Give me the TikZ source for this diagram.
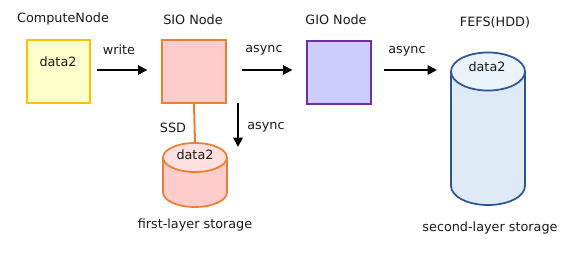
\documentclass[tikz,border=0pt]{standalone}
\usepackage{fontspec}
\setmainfont{DejaVu Sans}
\usetikzlibrary{arrows.meta}
\definecolor{txt}{HTML}{1A1A1A}
\definecolor{cfill}{HTML}{FFFFCC}
\definecolor{cline}{HTML}{FFC000}
\definecolor{sfill}{HTML}{FFCCCC}
\definecolor{sline}{HTML}{ED7D31}
\definecolor{stop}{HTML}{FFE0E0}
\definecolor{gfill}{HTML}{CCCCFF}
\definecolor{gline}{HTML}{7030A0}
\definecolor{ffill}{HTML}{DEEBF7}
\definecolor{ftop}{HTML}{EAF2FA}
\definecolor{fline}{HTML}{2F5597}
\begin{document}
\begin{tikzpicture}[x=0.75pt,y=-0.75pt,
  lbl/.style={text=txt,inner sep=0pt,font=\fontsize{9.6}{11}\selectfont},
  nodebox/.style={draw,line width=1.5pt,minimum width=47.5pt,minimum height=47.25pt,inner sep=0pt},
  flow/.style={line width=1.4pt,-{Triangle[length=7pt,width=7pt]}},
  cyl/.style={line width=1.3pt},
]
\useasboundingbox (0,0) rectangle (576,253);
% boxes
\node[nodebox,fill=cfill,draw=cline,minimum width=47.25pt] (comp) at (58.5,71.5) {};
\node[nodebox,fill=sfill,draw=sline] (sio) at (194,71.5) {};
\node[nodebox,fill=gfill,draw=gline] (gio) at (339,72.5) {};
% SSD cylinder
\fill[sfill] (163,157.5) -- (163,192.5) arc[start angle=180,end angle=0,x radius=32,y radius=14.5] -- (227,157.5) -- cycle;
\draw[sline,cyl] (163,157.5) -- (163,192.5) arc[start angle=180,end angle=0,x radius=32,y radius=14.5] -- (227,157.5);
\draw[sline,fill=stop,cyl] (195,157.5) ellipse[x radius=32,y radius=14.5];
\coordinate (ssdtop) at (195,143);
% FEFS cylinder
\fill[ffill] (451,71.5) -- (451,186) arc[start angle=180,end angle=0,x radius=37,y radius=19] -- (525,71.5) -- cycle;
\draw[fline,cyl] (451,71.5) -- (451,186) arc[start angle=180,end angle=0,x radius=37,y radius=19] -- (525,71.5);
\draw[fline,fill=ftop,cyl] (488,71.5) ellipse[x radius=37,y radius=19];
\coordinate (fefsW) at (451,70);
% connectors
\draw[flow,shorten <=4.5pt,shorten >=10.5pt] (comp.east |- fefsW) -- (sio.west |- fefsW);
\draw[flow,shorten <=11.25pt,shorten >=10.5pt] (sio.east |- fefsW) -- (gio.west |- fefsW);
\draw[flow,shorten <=9pt,shorten >=10.5pt] (gio.east |- fefsW) -- (fefsW);
\draw[sline,line width=1.5pt] (sio.south) -- (ssdtop);
\coordinate (dstart) at (238,103);
\coordinate (dend) at (238,147);
\draw[flow] (dstart) -- (dend);
% labels
\node[lbl] (tcomp) at (63,19) {ComputeNode};
\node[lbl] (tsio) at (193,20) {SIO Node};
\node[lbl] (tgio) at (336,20) {GIO Node};
\node[lbl] (tfefs) at (495,22) {FEFS(HDD)};
\node[lbl] (twrite) at (119,50) {write};
\node[lbl] (tas1) at (264,50) {async};
\node[lbl] (tas2) at (407,51) {async};
\node[lbl] (tas3) at (266,127) {async};
\node[lbl] (tssd) at (173,128) {SSD};
\node[lbl] (d1) at (58,62) {data2};
\node[lbl] (d2) at (195,155) {data2};
\node[lbl] (d3) at (487,67) {data2};
\node[lbl] (tfirst) at (195,225) {first-layer storage};
\node[lbl] (tsecond) at (490,228) {second-layer storage};
\end{tikzpicture}
\end{document}
